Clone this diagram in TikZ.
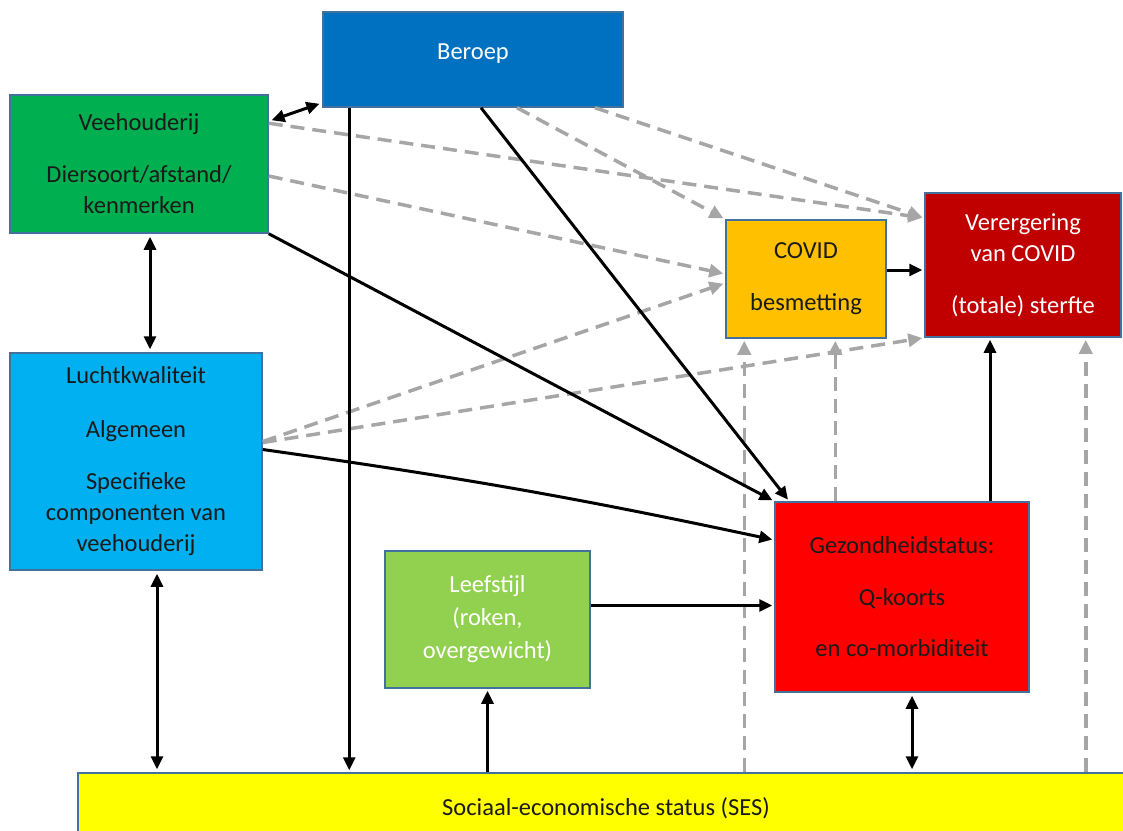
\documentclass[tikz,border=0pt]{standalone}
\usepackage{fontspec}
\setmainfont{Carlito}
\usetikzlibrary{arrows.meta}
\usetikzlibrary{positioning}
\usetikzlibrary{calc}
\definecolor{beroepblue}{HTML}{0070C0}
\definecolor{veegreen}{HTML}{00B050}
\definecolor{covidorange}{HTML}{FFC000}
\definecolor{vergred}{HTML}{C00000}
\definecolor{luchtblue}{HTML}{00B0F0}
\definecolor{leefgreen}{HTML}{92D050}
\definecolor{gezred}{HTML}{FF0000}
\definecolor{sesyellow}{HTML}{FFFF00}
\definecolor{boxline}{HTML}{41719C}
\definecolor{dashgray}{HTML}{A6A6A6}
\definecolor{darktext}{HTML}{1A1A1A}
\tikzstyle{box}=[rectangle,draw=boxline,line width=1.5pt,align=center,inner sep=0pt,font=\fontsize{24.5}{31}\selectfont]
\tikzstyle{edge} = [draw,line width=3pt,shorten >=2pt,-{Triangle[length=13pt,width=12pt]}]
\tikzstyle{twoway} = [draw,line width=3pt,shorten >=3pt,shorten <=3pt,{Triangle[length=13pt,width=12pt]}-{Triangle[length=13pt,width=12pt]}]
\tikzstyle{grayedge} = [draw,dashgray,line width=3.5pt,dash pattern=on 14pt off 8pt,shorten >=2pt,-{Triangle[length=14pt,width=13pt]}]

\begin{document}
\begin{tikzpicture}[x=1pt,y=-1pt]
    \useasboundingbox (0,0) rectangle (1123,830);
    \clip (0,0) rectangle (1123,830);

    % boxes with white text
    \foreach \pos/\name/\w/\h/\col/\txt in {{(473,59.5)/beroep/300/95/beroepblue/{Beroep\\[-16pt]}},
        {(1023,265)/verg/196/144/vergred/{Verergering\\van COVID\\[21pt](totale) sterfte}},
        {(487.5,619.5)/leef/205/137/leefgreen/{Leefstijl\\[2pt](roken,\\[2pt]overgewicht)}}}
        \node[box, fill=\col, text=white, minimum width=\w pt, minimum height=\h pt] (\name) at \pos {\txt};

    % boxes with dark text
    \foreach \pos/\name/\w/\h/\col/\txt in {{(139,164)/vee/258/138/veegreen/{Veehouderij\\[21pt]Diersoort/afstand/\\kenmerken}},
        {(806,279)/covid/160/118/covidorange/{COVID\\[21pt]besmetting}},
        {(136,461.5)/lucht/252/217/luchtblue/{Luchtkwaliteit\\[23pt]Algemeen\\[21pt]Specifieke\\componenten van\\veehouderij}},
        {(902,597)/gez/254/190/gezred/{Gezondheidstatus:\\[21pt]Q-koorts\\[20pt]en co-morbiditeit}},
        {(606,808)/ses/1056/70/sesyellow/{Sociaal-economische status (SES)}}}
        \node[box, fill=\col, text=darktext, minimum width=\w pt, minimum height=\h pt] (\name) at \pos {\txt};

    % end points on the boxes
    \coordinate (beroepdown) at ([xshift=27pt]beroep.south west);
    \coordinate (beroepcovid) at ([xshift=44pt]beroep.south);
    \coordinate (beroepverg) at ([xshift=122pt]beroep.south);
    \coordinate (vergin) at ([yshift=47pt]verg.west);
    \coordinate (luchtses) at ([xshift=21pt]lucht.south);
    \coordinate (leefout) at ([yshift=14pt]leef.east);
    \coordinate (gezses) at ([xshift=10pt]gez.south);
    \coordinate (gezup) at ([xshift=88pt]gez.north);
    \coordinate (covidout) at ([yshift=9pt]covid.east);
    \coordinate (sescovid) at ([xshift=19pt]covid.south west);
    \coordinate (gezcovid) at ([xshift=110pt]covid.south west);
    \coordinate (sesverg) at ([xshift=-36pt]verg.south east);

    % grey dashed arrows
    \foreach \source/\dest in {beroepcovid/covid.north west, beroepverg/vergin, sesverg |- ses.north/sesverg,
        sescovid |- ses.north/sescovid, gezcovid |- gez.north/gezcovid}
        \path[grayedge] (\source) -- (\dest);
    \path[grayedge] ([yshift=-29pt]vee.north east) -- (vergin);
    \path[grayedge] ([yshift=-12pt]vee.east) -- ([yshift=5pt]covid.west);
    \path[grayedge] ([yshift=20pt]lucht.east) -- ([yshift=-4pt]covid.west);
    \path[grayedge] ([yshift=19pt]lucht.east) -- (verg.south west);

    % black arrows
    \foreach \source/\dest in {beroepdown/beroepdown |- ses.north, vee.south east/gez.north west,
        leefout/leefout -| gez.west, leef.south |- ses.north/leef.south, gezup/gezup |- verg.south,
        covidout/covidout -| verg.west}
        \path[edge] (\source) -- (\dest);
    \path[edge] ([xshift=8pt]beroep.south) -- ([xshift=15pt]gez.north west);
    \path[edge] ([yshift=12pt]lucht.east) to[bend left=2] ([yshift=57pt]gez.west);

    \foreach \source/\dest in {luchtses/luchtses |- ses.north, gezses/gezses |- ses.north}
        \path[twoway] (\source) -- (\dest);
    \path[twoway] ([yshift=-27pt]vee.north east) -- ([yshift=5pt]beroep.south west);
    \path[twoway] ([xshift=11pt]vee.south) -- ([xshift=14pt]lucht.north);

\end{tikzpicture}
\end{document}
